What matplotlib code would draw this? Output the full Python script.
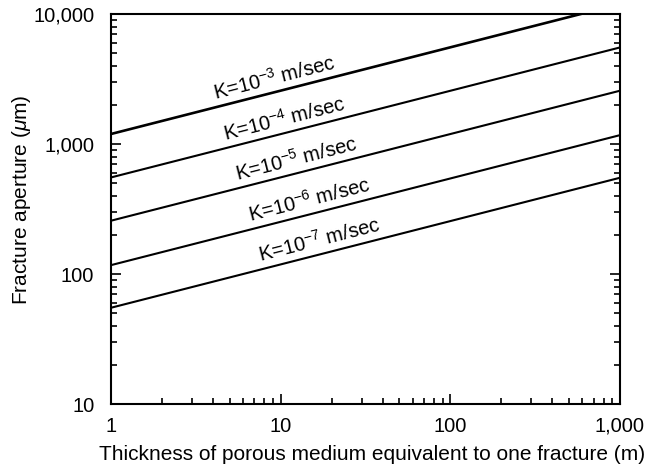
import numpy as np
import matplotlib
matplotlib.use("Agg")
import matplotlib.pyplot as plt
from matplotlib.ticker import FixedLocator, LogLocator, NullFormatter

plt.rcParams['font.family'] = ['Liberation Sans', 'DejaVu Sans']
plt.rcParams['mathtext.fontset'] = 'custom'
plt.rcParams['mathtext.rm'] = 'Liberation Sans'
plt.rcParams['mathtext.it'] = 'Liberation Sans:italic'

# Data (line endpoints in log-log space)
thickness = [1, 1000]
k_labels = ["K=10$^{-3}$ m/sec", "K=10$^{-4}$ m/sec", "K=10$^{-5}$ m/sec",
            "K=10$^{-6}$ m/sec", "K=10$^{-7}$ m/sec"]
aperture_k3 = [1194, 11940]
aperture_k4 = [553, 5530]
aperture_k5 = [257, 2570]
aperture_k6 = [117, 1170]
aperture_k7 = [55, 550]
series = [aperture_k3, aperture_k4, aperture_k5, aperture_k6, aperture_k7]
line_widths = [1.9, 1.5, 1.5, 1.5, 1.5]
label_x = [9.6, 11.1, 12.9, 15.5, 17.7]

x_ticks = [1, 10, 100, 1000]
x_ticklabels = ["1", "10", "100", "1,000"]
y_ticks = [10, 100, 1000, 10000]
y_ticklabels = ["10", "100", "1,000", "10,000"]

fig = plt.figure(figsize=(6.47, 4.70), dpi=100)
ax = fig.add_axes([111/647, 1-404/470, (620-111)/647, (404-14)/470])
ax.set_xscale('log')
ax.set_yscale('log')
ax.set_xlim(1, 1000)
ax.set_ylim(10, 10000)

for ys, lw in zip(series, line_widths):
    ax.plot(thickness, ys, color='black', lw=lw, solid_capstyle='butt')

fig.canvas.draw()
p0 = ax.transData.transform((thickness[0], series[1][0]))
p1 = ax.transData.transform((thickness[1], series[1][1]))
angle = np.degrees(np.arctan2(p1[1]-p0[1], p1[0]-p0[0]))

for lab, ys, lx in zip(k_labels, series, label_x):
    slope = (np.log10(ys[1]) - np.log10(ys[0])) / (np.log10(thickness[1]) - np.log10(thickness[0]))
    ly = ys[0] * (lx / thickness[0]) ** slope
    ax.annotate(lab, xy=(lx, ly), xytext=(-np.sin(np.radians(angle))*2.5, np.cos(np.radians(angle))*2.5),
                textcoords='offset points', rotation=angle, rotation_mode='anchor',
                ha='center', va='bottom', fontsize=14.5)

ax.xaxis.set_major_locator(FixedLocator(x_ticks))
ax.set_xticklabels(x_ticklabels)
ax.yaxis.set_major_locator(FixedLocator(y_ticks))
ax.set_yticklabels(y_ticklabels)
ax.xaxis.set_minor_locator(LogLocator(base=10, subs=np.arange(2, 10)))
ax.yaxis.set_minor_locator(LogLocator(base=10, subs=np.arange(2, 10)))
ax.xaxis.set_minor_formatter(NullFormatter())
ax.yaxis.set_minor_formatter(NullFormatter())

ax.tick_params(which='both', direction='in', top=False, right=True, width=1.2, labelsize=14.5)
ax.tick_params(which='major', length=7)
ax.tick_params(which='minor', length=4)
ax.tick_params(axis='y', which='major', pad=12)
ax.tick_params(axis='x', which='major', pad=9)
for s in ax.spines.values():
    s.set_linewidth(1.5)

ax.set_xlabel("Thickness of porous medium equivalent to one fracture (m)", fontsize=15)
ax.set_ylabel("Fracture aperture ($\\mathit{\\mu}$m)", fontsize=15)
ax.xaxis.set_label_coords((372.5-111)/509, -(455-404)/390, transform=ax.transAxes)
ax.xaxis.label.set_va('center')
ax.yaxis.set_label_coords(-(111-21.5)/509, (404-200)/390, transform=ax.transAxes)
ax.yaxis.label.set_va('center')

fig.savefig("out.png", dpi=100)
